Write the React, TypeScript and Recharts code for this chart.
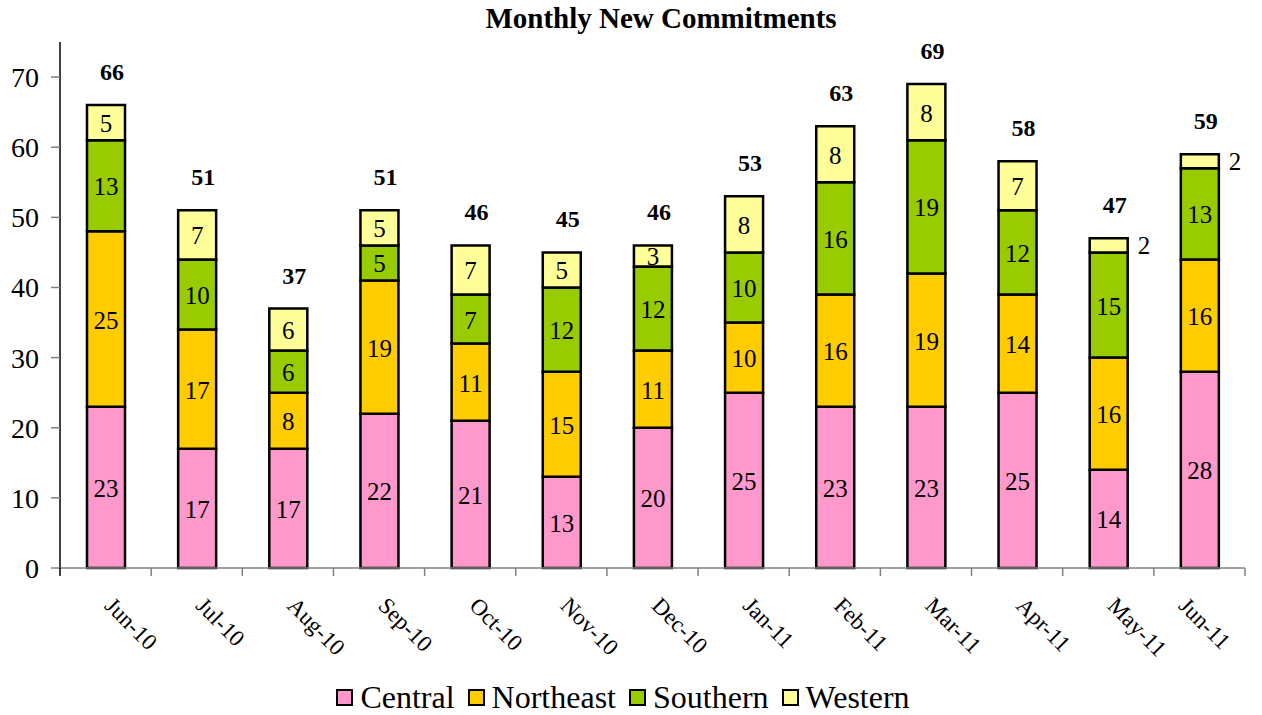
import { BarChart, Bar, XAxis, YAxis, Legend, LabelList } from "recharts";

const months = [
  "Jun-10", "Jul-10", "Aug-10", "Sep-10", "Oct-10", "Nov-10", "Dec-10",
  "Jan-11", "Feb-11", "Mar-11", "Apr-11", "May-11", "Jun-11",
];
const central = [23, 17, 17, 22, 21, 13, 20, 25, 23, 23, 25, 14, 28];
const northeast = [25, 17, 8, 19, 11, 15, 11, 10, 16, 19, 14, 16, 16];
const southern = [13, 10, 6, 5, 7, 12, 12, 10, 16, 19, 12, 15, 13];
const western = [5, 7, 6, 5, 7, 5, 3, 8, 8, 8, 7, 2, 2];
const yTicks = [0, 10, 20, 30, 40, 50, 60, 70];

const series = [
  { key: "Central", color: "#FF99CC" },
  { key: "Northeast", color: "#FFCC00" },
  { key: "Southern", color: "#99CC00" },
  { key: "Western", color: "#FFFF99" },
];

const data = months.map((m, i) => ({
  month: m,
  Central: central[i],
  Northeast: northeast[i],
  Southern: southern[i],
  Western: western[i],
  total: central[i] + northeast[i] + southern[i] + western[i],
}));

const FONT = "Liberation Serif";
const BAND = 1185 / 13;

// category ticks sit between the bars, like Excel draws them
const XTick = (props: any) => {
  const { x, y, payload, index } = props;
  const last = index === months.length - 1;
  const shift = last ? -20 : 0;
  return (
    <g>
      <line x1={x - BAND / 2} y1={y} x2={x - BAND / 2} y2={y + 8} stroke={index === 0 ? "#000" : "#808080"} strokeWidth={1.5} />
      {last && (
        <line x1={x + BAND / 2} y1={y} x2={x + BAND / 2} y2={y + 8} stroke="#808080" strokeWidth={1.5} />
      )}
      <text
        transform={`translate(${x - 2 + shift}, ${y + 39}) rotate(45)`}
        textAnchor="start"
        fontFamily={FONT}
        fontSize={23}
        fill="#000"
      >
        {payload.value}
      </text>
    </g>
  );
};

const SegLabel = (props: any) => {
  const { x, y, width, height, value } = props;
  if (value <= 2) {
    return (
      <text x={x + width + 10} y={y + height / 2} dominantBaseline="central" fontFamily={FONT} fontSize={25} fill="#000">
        {value}
      </text>
    );
  }
  return (
    <text x={x + width / 2} y={y + height / 2 + 1} textAnchor="middle" dominantBaseline="central" fontFamily={FONT} fontSize={25} fill="#000">
      {value}
    </text>
  );
};

const TotalLabel = (props: any) => {
  const { x, y, width, value } = props;
  return (
    <text x={x + width / 2 + 6} y={y - 25} textAnchor="middle" fontFamily={FONT} fontSize={24} fontWeight="bold" fill="#000">
      {value}
    </text>
  );
};

const renderLegend = () => (
  <div style={{ display: "flex", justifyContent: "center", alignItems: "center", height: 40, paddingLeft: 14, paddingTop: 2, fontFamily: FONT, fontSize: 32, lineHeight: 1 }}>
    {series.map((s) => (
      <div key={s.key} style={{ display: "flex", alignItems: "center", marginRight: 13 }}>
        <span style={{ display: "inline-block", width: 13, height: 13, background: s.color, border: "2px solid #000", marginRight: 7 }} />
        <span>{s.key}</span>
      </div>
    ))}
  </div>
);

export default function App() {
  return (
    <div style={{ position: "absolute", left: 0, top: 0, width: 1262, height: 715, background: "#fff" }}>
      <div
        style={{
          position: "absolute", left: 411, top: 4, width: 500, textAlign: "center",
          fontFamily: FONT, fontSize: 29, fontWeight: "bold", lineHeight: 1,
        }}
      >
        Monthly New Commitments
      </div>
      <BarChart width={1262} height={715} data={data} margin={{ top: 42, right: 17, left: 0, bottom: 0 }} barSize={38}>
        <XAxis
          dataKey="month"
          interval={0}
          height={107}
          tickSize={0}
          tickMargin={0}
          tickLine={false}
          axisLine={{ stroke: "#808080", strokeWidth: 1.5 }}
          tick={<XTick />}
        />
        <YAxis
          width={60}
          domain={[0, 75]}
          ticks={yTicks}
          interval={0}
          tickSize={9}
          tickMargin={12}
          axisLine={{ stroke: "#000", strokeWidth: 1.5 }}
          tickLine={{ stroke: "#808080", strokeWidth: 1.5 }}
          tick={{ fontFamily: FONT, fontSize: 28, fill: "#000" }}
        />
        <Legend verticalAlign="bottom" content={renderLegend} wrapperStyle={{ height: 40 }} />
        {series.map((s, i) => (
          <Bar key={s.key} dataKey={s.key} stackId="a" fill={s.color} stroke="#000" strokeWidth={2.5} isAnimationActive={false}>
            <LabelList dataKey={s.key} content={<SegLabel />} />
            {i === series.length - 1 && <LabelList dataKey="total" content={<TotalLabel />} />}
          </Bar>
        ))}
      </BarChart>
    </div>
  );
}
